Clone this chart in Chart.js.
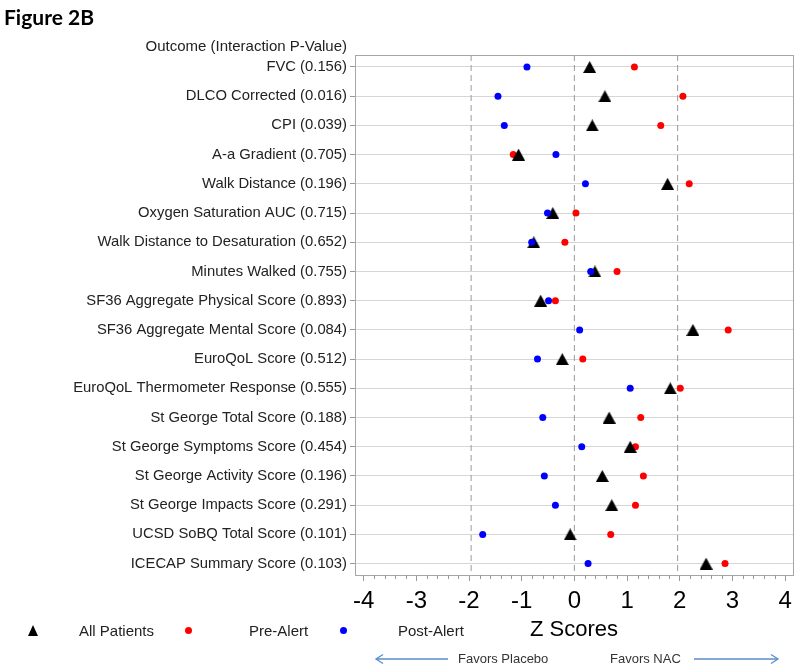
<!DOCTYPE html>
<html><head><meta charset="utf-8">
<script src="https://cdn.jsdelivr.net/npm/chart.js@4/dist/chart.umd.min.js"></script>
<style>
html,body{margin:0;padding:0;background:#fff;}
#wrap{position:relative;width:800px;height:668px;overflow:hidden;font-family:"Liberation Sans",Arial,sans-serif;}
#c{position:absolute;left:0;top:0;}
.t{position:absolute;white-space:nowrap;color:#222;line-height:1;}
.dot{position:absolute;width:7px;height:7px;border-radius:50%;}
.tri{position:absolute;width:0;height:0;border-left:5.5px solid transparent;border-right:5.5px solid transparent;border-bottom:11px solid #000;}
svg{position:absolute;left:0;top:0;}
</style></head><body>
<div id="wrap">
<canvas id="c" width="800" height="668"></canvas>
<div class="t" style="left:4px;top:4px;font:bold 21px Lato,'Open Sans',sans-serif;color:#000">Figure 2B</div>
<div class="t" style="right:453px;top:38px;font-size:15px;">Outcome (Interaction P-Value)</div>

<div class="tri" style="left:27.5px;top:625px;"></div>
<div class="t" style="left:79px;top:623px;font-size:15px;">All Patients</div>
<div class="dot" style="left:184.5px;top:626.5px;background:#ff0000;"></div>
<div class="t" style="left:249px;top:623px;font-size:15px;">Pre-Alert</div>
<div class="dot" style="left:339.5px;top:626.5px;background:#0000ff;"></div>
<div class="t" style="left:398px;top:623px;font-size:15px;">Post-Alert</div>

<div class="t" style="left:458px;top:652px;font-size:13px;color:#333">Favors Placebo</div>
<div class="t" style="left:610px;top:652px;font-size:13px;color:#333">Favors NAC</div>
<svg width="800" height="668">
  <g stroke="#5b8dcc" stroke-width="1.3" fill="none">
    <line x1="376" y1="659" x2="448" y2="659"/>
    <polyline points="383,654.5 376,659 383,663.5"/>
    <line x1="694" y1="659" x2="778" y2="659"/>
    <polyline points="771,654.5 778,659 771,663.5"/>
  </g>
</svg>
</div>
<script>
const categories = [
  "FVC (0.156)",
  "DLCO Corrected (0.016)",
  "CPI (0.039)",
  "A-a Gradient (0.705)",
  "Walk Distance (0.196)",
  "Oxygen Saturation AUC (0.715)",
  "Walk Distance to Desaturation (0.652)",
  "Minutes Walked (0.755)",
  "SF36 Aggregate Physical Score (0.893)",
  "SF36 Aggregate Mental Score (0.084)",
  "EuroQoL Score (0.512)",
  "EuroQoL Thermometer Response (0.555)",
  "St George Total Score (0.188)",
  "St George Symptoms Score (0.454)",
  "St George Activity Score (0.196)",
  "St George Impacts Score (0.291)",
  "UCSD SoBQ Total Score (0.101)",
  "ICECAP Summary Score (0.103)"
];
const allPatients = [0.29, 0.58, 0.34, -1.06, 1.77, -0.41, -0.77, 0.39, -0.64, 2.25, -0.23, 1.82, 0.66, 1.06, 0.53, 0.71, -0.08, 2.50];
const preAlert    = [1.14, 2.06, 1.64, -1.16, 2.18, 0.03, -0.18, 0.81, -0.36, 2.92, 0.16, 2.01, 1.26, 1.16, 1.31, 1.16, 0.69, 2.86];
const postAlert   = [-0.90, -1.45, -1.33, -0.35, 0.21, -0.51, -0.81, 0.31, -0.49, 0.10, -0.70, 1.06, -0.60, 0.14, -0.57, -0.36, -1.74, 0.26];
const xTickValues = [-4, -3, -2, -1, 0, 1, 2, 3, 4];
const referenceLines = [-1.96, 0, 1.96];

Chart.defaults.font.family = "'Liberation Sans', Arial, sans-serif";

function triangleImage(w, h, color) {
  const c = document.createElement('canvas');
  c.width = w; c.height = h;
  const g = c.getContext('2d');
  g.fillStyle = color;
  g.beginPath();
  g.moveTo(w / 2, 0);
  g.lineTo(w, h);
  g.lineTo(0, h);
  g.closePath();
  g.fill();
  return c;
}
const tri = triangleImage(13, 12, '#000');

const yMin = -0.41, yMax = 17.39;
const toPts = arr => arr.map((v, i) => ({x: v, y: i}));

const refDatasets = referenceLines.map(v => ({
  type: 'line',
  data: [{x: v, y: yMin}, {x: v, y: yMax}],
  borderColor: '#9a9a9a',
  borderWidth: 1,
  borderDash: [6, 4],
  pointRadius: 0,
  fill: false
}));

const frame = {
  id: 'frame',
  afterDraw(chart) {
    const {ctx, chartArea: a, scales: {x}} = chart;
    ctx.save();
    ctx.strokeStyle = '#a6a6a6';
    ctx.lineWidth = 1;
    ctx.strokeRect(Math.round(a.left) + 0.5, Math.round(a.top) + 0.5, Math.round(a.right - a.left), Math.round(a.bottom - a.top));
    ctx.strokeStyle = '#999';
    ctx.beginPath();
    for (let k = -20; k <= 20; k++) {
      if (k % 5 === 0) continue;
      const px = Math.round(x.getPixelForValue(k / 5)) + 0.5;
      ctx.moveTo(px, a.bottom);
      ctx.lineTo(px, a.bottom + 4);
    }
    ctx.stroke();
    ctx.restore();
  }
};

new Chart(document.getElementById('c'), {
  type: 'scatter',
  data: {
    datasets: [
      {label: 'Post-Alert', data: toPts(postAlert), pointStyle: 'circle', pointRadius: 3.5, backgroundColor: '#0000ff', borderWidth: 0},
      {label: 'All Patients', data: toPts(allPatients), pointStyle: tri, pointRadius: 6},
      {label: 'Pre-Alert', data: toPts(preAlert), pointStyle: 'circle', pointRadius: 3.5, backgroundColor: '#ff0000', borderWidth: 0},
      ...refDatasets
    ]
  },
  options: {
    responsive: false,
    animation: false,
    devicePixelRatio: 1,
    layout: {padding: {left: 0, right: 4, top: 55, bottom: 0}},
    plugins: {legend: {display: false}, tooltip: {enabled: false}},
    scales: {
      x: {
        type: 'linear', min: -4.164, max: 4.15,
        afterBuildTicks: s => { s.ticks = xTickValues.map(v => ({value: v})); },
        afterFit: s => { s.height = 93; },
        ticks: {font: {size: 24}, color: '#000', padding: 6, maxRotation: 0, autoSkip: false, callback: v => String(v)},
        grid: {drawOnChartArea: false, tickLength: 6, color: '#999'},
        border: {color: '#a6a6a6'},
        title: {display: true, text: 'Z Scores', font: {size: 22}, color: '#000', padding: {top: 0, bottom: 25}}
      },
      y: {
        type: 'linear', reverse: true, min: yMin, max: yMax,
        afterBuildTicks: s => { s.ticks = categories.map((_, i) => ({value: i})); },
        afterFit: s => { s.width = 355; },
        ticks: {font: {size: 14.8}, color: '#222', padding: 3, autoSkip: false, callback: v => categories[v]},
        grid: {color: '#d6d6d6', tickLength: 5, tickColor: '#999'},
        border: {color: '#a6a6a6'}
      }
    }
  },
  plugins: [frame]
});
</script>
</body></html>
